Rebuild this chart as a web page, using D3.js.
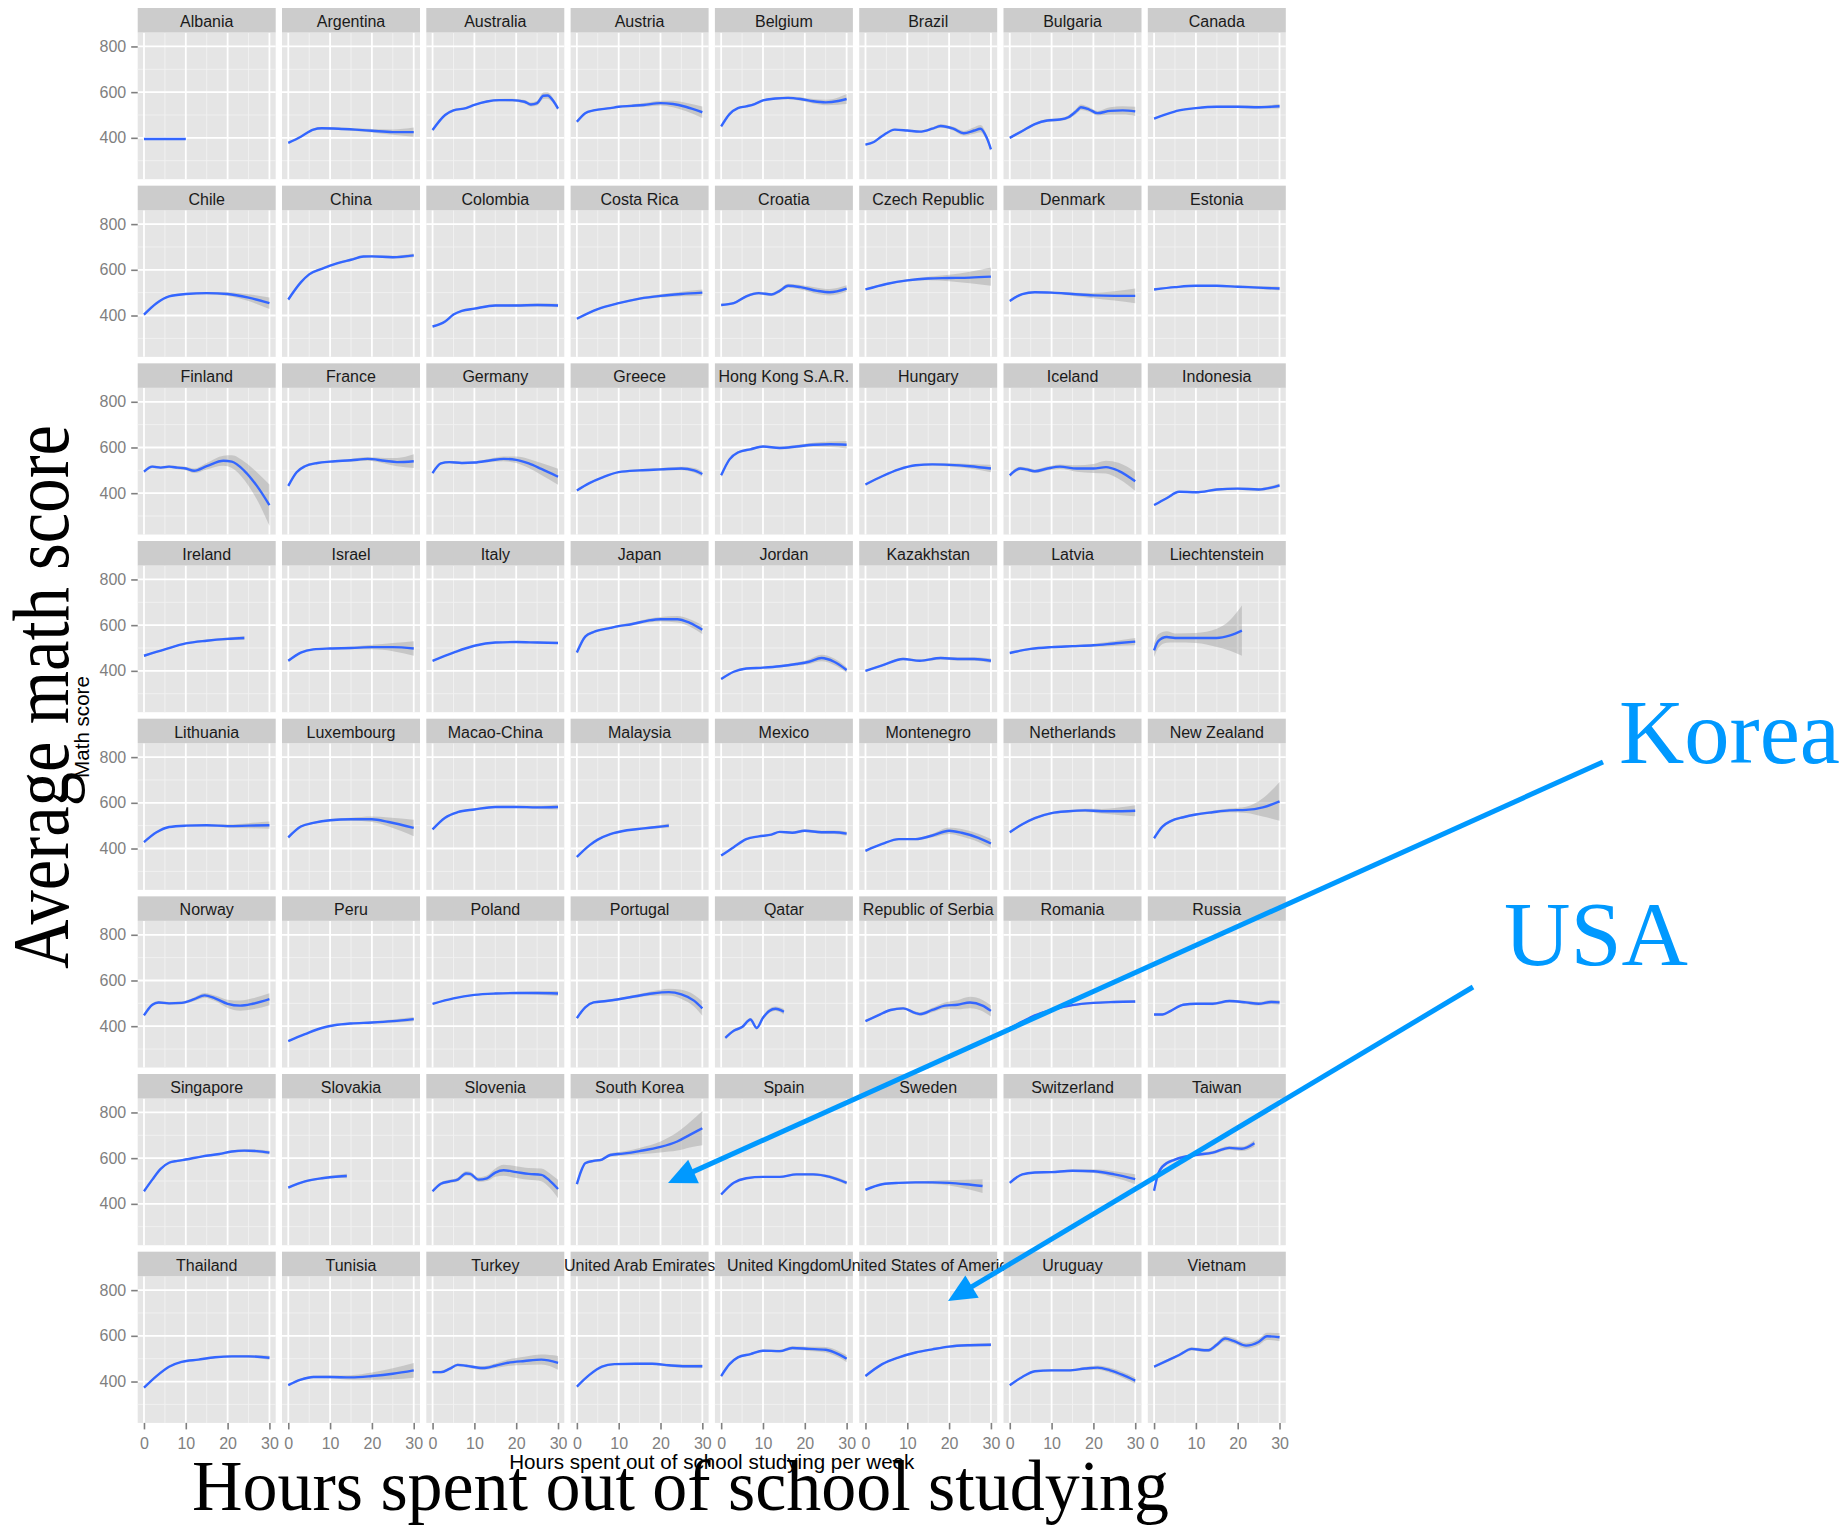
<!DOCTYPE html>
<html>
<head>
<meta charset="utf-8">
<script src="https://cdn.jsdelivr.net/npm/d3@7"></script>
<style>
  html, body { margin: 0; padding: 0; background: #fff; }
  svg { display: block; }
</style>
</head>
<body>
<svg id="chart" width="1848" height="1530"></svg>
<script>
// ── Facets, in the order ggplot lays them out (row by row, 8 per row) ──
const countries = [
  'Albania', 'Argentina', 'Australia', 'Austria', 'Belgium', 'Brazil', 'Bulgaria', 'Canada',
  'Chile', 'China', 'Colombia', 'Costa Rica', 'Croatia', 'Czech Republic', 'Denmark', 'Estonia',
  'Finland', 'France', 'Germany', 'Greece', 'Hong Kong S.A.R.', 'Hungary', 'Iceland', 'Indonesia',
  'Ireland', 'Israel', 'Italy', 'Japan', 'Jordan', 'Kazakhstan', 'Latvia', 'Liechtenstein',
  'Lithuania', 'Luxembourg', 'Macao-China', 'Malaysia', 'Mexico', 'Montenegro', 'Netherlands', 'New Zealand',
  'Norway', 'Peru', 'Poland', 'Portugal', 'Qatar', 'Republic of Serbia', 'Romania', 'Russia',
  'Singapore', 'Slovakia', 'Slovenia', 'South Korea', 'Spain', 'Sweden', 'Switzerland', 'Taiwan',
  'Thailand', 'Tunisia', 'Turkey', 'United Arab Emirates', 'United Kingdom', 'United States of America', 'Uruguay', 'Vietnam'
];

// Smoothed fit per country: [hours per week, math score, half width of the confidence band]
const curves = [
  [[0,395,2],[10,395,2]],
  [[0,378,4],[3,405,4],[6,436,5],[8,442,5],[12,440,5],[16,436,6],[20,431,8],[25,425,12],[30,425,20]],
  [[0,434,6],[3,500,5],[5,520,5],[8,530,4],[10,544,4],[13,559,4],[16,565,5],[19,565,6],[22,558,8],[23.5,546,9],[25,552,10],[26.5,584,14],[27.5,585,14],[29,558,10],[30,528,8]],
  [[0,470,6],[2,508,5],[4,520,4],[8,530,4],[10,536,4],[13,540,6],[16,544,8],[20,552,10],[23,548,14],[26,536,18],[30,512,25]],
  [[0,450,6],[2,504,5],[4,530,4],[6,538,4],[8,548,4],[10,564,4],[13,572,5],[16,575,6],[19,570,8],[22,560,10],[25,555,12],[28,561,16],[30,570,22]],
  [[0,370,4],[2,382,4],[4,408,4],[7,436,4],[10,432,4],[13,427,5],[16,440,6],[18,452,8],[21,440,8],[23.5,420,10],[26,432,14],[27.5,440,16],[29,400,12],[30,350,8]],
  [[0,400,5],[3,430,5],[6,460,5],[9,476,6],[12,480,6],[14,490,8],[16,518,12],[17,534,12],[19,524,10],[21,508,10],[24,518,16],[27,520,18],[30,516,20]],
  [[0,484,4],[3,504,3],[6,520,3],[10,530,3],[15,536,4],[20,536,5],[25,534,6],[30,538,10]],

  [[0,404,5],[3,454,4],[6,484,4],[10,494,4],[15,498,5],[20,494,8],[25,478,15],[30,454,25]],
  [[0,470,6],[3,545,5],[5,580,5],[8,604,4],[10,618,4],[15,644,5],[18,658,5],[20,659,5],[25,655,6],[30,663,8]],
  [[0,352,5],[3,374,4],[5,404,4],[7,420,4],[10,430,4],[15,444,5],[20,444,6],[25,446,7],[30,444,8]],
  [[0,386,5],[5,428,4],[10,454,4],[15,474,5],[20,486,7],[25,494,10],[30,500,14]],
  [[0,446,5],[3,454,5],[6,484,6],[9,498,6],[12,492,7],[14,508,8],[16,530,9],[19,524,10],[23,508,14],[26,502,14],[30,518,14]],
  [[0,514,5],[5,538,4],[10,554,5],[15,562,8],[20,564,14],[25,566,25],[30,570,40]],
  [[0,464,5],[3,494,4],[6,502,4],[10,500,5],[15,494,7],[20,488,12],[25,486,20],[30,486,32]],
  [[0,514,4],[5,524,3],[10,530,3],[15,530,4],[20,526,5],[25,522,6],[30,518,8]],

  [[0,494,6],[2,516,6],[4,512,6],[6,516,6],[8,512,7],[10,508,8],[12,498,10],[15,518,14],[19,542,22],[21,538,28],[24,498,40],[27,432,60],[30,348,90]],
  [[0,432,6],[2,492,5],[4,518,5],[7,532,4],[10,538,4],[15,544,6],[19,550,8],[23,542,12],[26,536,18],[30,540,30]],
  [[0,488,6],[2,530,5],[4,536,5],[7,532,5],[10,534,5],[14,544,8],[17,550,10],[20,546,14],[23,530,20],[26,506,26],[30,472,35]],
  [[0,412,5],[3,444,4],[6,468,4],[10,492,4],[15,500,5],[20,504,6],[25,508,8],[28,500,10],[30,484,12]],
  [[0,478,8],[2,548,6],[4,578,5],[7,592,5],[10,604,5],[14,598,6],[18,604,7],[22,612,9],[26,614,12],[30,612,16]],
  [[0,438,5],[4,474,4],[8,504,4],[12,522,4],[16,526,5],[20,524,7],[25,518,10],[30,508,16]],
  [[0,478,8],[2.5,508,8],[4,504,8],[6,496,8],[9,508,9],[12,516,10],[16,508,14],[20,508,20],[23,514,28],[26,498,35],[30,452,42]],
  [[0,348,4],[3,378,4],[6,406,4],[10,404,4],[15,416,5],[20,420,5],[25,416,6],[28,424,7],[30,434,8]],

  [[0,466,5],[5,494,4],[10,520,4],[15,532,5],[20,540,6],[24,544,9]],
  [[0,444,5],[3,480,4],[6,494,4],[10,498,4],[15,500,6],[20,504,10],[25,504,18],[30,498,32]],
  [[0,444,4],[5,480,3],[10,510,3],[15,524,3],[20,526,4],[25,524,4],[30,522,5]],
  [[0,480,7],[2,550,6],[4,570,5],[8,588,5],[10,596,5],[13,604,6],[17,620,8],[20,626,10],[24,626,14],[27,610,16],[30,580,20]],
  [[0,364,5],[3,396,4],[6,410,4],[10,414,4],[14,420,5],[18,430,7],[21,440,10],[24,456,14],[27,440,14],[30,404,12]],
  [[0,400,5],[4,424,4],[9,452,5],[13,444,5],[18,456,6],[22,452,7],[26,452,8],[30,444,10]],
  [[0,478,5],[5,496,4],[10,504,4],[15,508,5],[20,512,7],[25,520,11],[30,528,16]],
  [[0,490,30],[1,530,30],[3,548,25],[5,544,20],[10,544,22],[15,544,40],[18,554,65],[21,576,110]],

  [[0,428,5],[3,471,4],[6,494,4],[10,500,4],[15,502,5],[20,498,7],[25,500,11],[30,502,16]],
  [[0,449,6],[3,496,5],[6,512,5],[10,524,5],[15,528,7],[20,528,12],[24,516,20],[30,490,36]],
  [[0,484,5],[3,535,4],[6,559,4],[10,571,4],[15,582,4],[20,582,5],[25,580,7],[30,582,11]],
  [[0,363,5],[3,414,4],[5,439,4],[8,463,4],[12,480,4],[16,488,5],[20,496,7],[22,500,9]],
  [[0,369,4],[3,406,3],[6,441,3],[9,453,3],[12,461,4],[14,473,4],[17,469,5],[20,478,6],[24,471,7],[27,471,8],[30,465,9]],
  [[0,390,5],[4,420,4],[8,441,4],[12,441,5],[16,457,8],[20,478,14],[23,469,16],[27,447,18],[30,422,20]],
  [[0,471,6],[3,506,5],[6,533,5],[10,555,5],[14,563,5],[18,567,7],[22,563,10],[26,563,16],[30,565,24]],
  [[0,445,7],[2,496,6],[4,520,5],[7,537,5],[10,549,5],[14,559,6],[18,567,8],[22,569,14],[26,580,40],[30,606,85]],

  [[0,447,6],[2,494,6],[3.5,504,6],[6,500,6],[9,502,6],[12,518,8],[14.5,535,10],[17,522,12],[20,498,18],[23,490,22],[26,498,24],[30,518,26]],
  [[0,335,4],[4,365,3],[8,392,3],[11,404,3],[15,412,4],[20,416,5],[25,422,7],[30,431,9]],
  [[0,498,4],[5,522,3],[10,537,3],[15,543,4],[20,545,5],[25,545,7],[30,543,11]],
  [[0,435,6],[2,482,5],[4,504,5],[7,510,5],[10,518,5],[14,531,7],[18,543,10],[22,549,15],[25,539,20],[28,512,26],[30,478,32]],
  [[1,349,5],[3,380,6],[5,396,6],[7,429,7],[8.5,392,7],[10,437,8],[11.5,467,9],[13,476,10],[15,463,12]],
  [[0,422,5],[3,447,5],[6,471,5],[9,478,6],[12,457,7],[13,453,8],[16,471,10],[19,490,14],[22,494,20],[25,504,25],[28,490,25],[30,467,25]],
  [[0,390,5],[3,420,4],[6,447,4],[10,471,4],[15,492,4],[20,502,5],[25,506,5],[30,508,6]],
  [[0,451,5],[2,451,5],[4,467,5],[7,494,5],[10,498,5],[14,498,6],[18,510,6],[22,504,7],[25,498,8],[28,506,9],[30,504,10]],

  [[0,455,6],[2,506,5],[4,553,5],[6,580,4],[8,588,4],[10,594,4],[14,608,4],[18,618,5],[21,629,5],[24,633,6],[27,631,7],[30,624,8]],
  [[0,471,5],[4,498,4],[8,512,5],[12,520,7],[14,522,10]],
  [[0,455,7],[2,488,7],[4,498,7],[6,506,8],[8,533,10],[9,531,10],[11,506,10],[13,512,12],[15,537,18],[17,547,24],[20,539,26],[23,531,26],[26,527,28],[28,502,32],[30,465,40]],
  [[0,486,8],[1,543,8],[2,578,6],[4,588,6],[6,594,6],[8,614,7],[11,620,9],[15,631,14],[20,649,24],[24,673,40],[27,702,55],[30,731,75]],
  [[0,441,5],[3,492,4],[6,512,4],[10,518,4],[14,518,4],[18,529,5],[22,529,6],[26,518,7],[30,492,8]],
  [[0,461,5],[4,486,4],[8,492,4],[12,494,5],[16,494,7],[20,492,12],[24,486,20],[28,478,30]],
  [[0,492,5],[3,529,4],[6,537,4],[10,539,4],[15,545,5],[20,543,8],[25,529,14],[30,508,22]],
  [[0,457,10],[1,533,9],[2,563,8],[5,594,6],[10,614,6],[14,624,7],[18,645,8],[21,641,10],[24,665,15]],

  [[0,373,4],[3,424,4],[6,465,4],[9,486,3],[13,496,3],[17,506,4],[21,510,5],[25,510,6],[30,504,9]],
  [[0,384,5],[3,408,5],[6,420,5],[10,420,6],[15,418,10],[20,424,16],[25,434,24],[30,449,32]],
  [[0,441,6],[2,441,6],[4,455,6],[6,473,6],[8,469,6],[12,459,8],[15,469,10],[18,482,14],[22,490,18],[26,496,22],[30,482,30]],
  [[0,378,5],[3,429,4],[6,465,4],[9,476,4],[14,478,4],[18,478,5],[22,471,6],[26,467,7],[30,467,9]],
  [[0,424,6],[2,476,5],[4,506,5],[7,520,5],[10,535,5],[14,533,6],[17,547,7],[21,543,9],[25,539,12],[28,520,14],[30,500,16]],
  [[0,424,5],[4,476,4],[8,506,4],[12,527,4],[16,541,4],[20,553,5],[25,559,6],[30,561,8]],
  [[0,384,5],[3,420,4],[6,445,4],[10,449,5],[14,449,5],[18,457,7],[21,461,9],[24,449,11],[27,429,13],[30,404,14]],
  [[0,465,6],[3,490,6],[6,516,6],[9,543,7],[12,537,8],[13,537,8],[15,561,10],[17,588,12],[19,578,12],[22,557,12],[25,573,14],[27,598,16],[30,594,18]]
];

const xTicks = [0, 10, 20, 30];
const xMinor = [5, 15, 25];
const yTicks = [400, 600, 800];
const yMinor = [300, 500, 700];

// ── Layout ──
const W = 1848, H = 1530;
const NCOL = 8;
const LEFT = 137.7, TOP = 8;
const COL_STEP = 144.3, ROW_STEP = 177.67;
const STRIP_H = 24.5, PANEL_W = 138, PANEL_H = 146.7;
const SANS = '"Liberation Sans", Arial, Helvetica, sans-serif';
const SERIF = '"Liberation Serif", "Times New Roman", serif';
const BLUE = '#0099ff';

const x = d3.scaleLinear().domain([-1.5, 31.5]).range([0, PANEL_W]);
const y = d3.scaleLinear().domain([219, 861]).range([PANEL_H, 0]);

const svg = d3.select('#chart').attr('viewBox', `0 0 ${W} ${H}`);
svg.append('rect').attr('width', W).attr('height', H).attr('fill', '#fff');

svg.append('defs').append('clipPath').attr('id', 'panel-clip')
  .append('rect').attr('width', PANEL_W).attr('height', PANEL_H);

const line = d3.line().x(d => x(d[0])).y(d => y(d[1])).curve(d3.curveMonotoneX);
const band = d3.area().x(d => x(d[0]))
  .y0(d => y(d[1] - d[2])).y1(d => y(d[1] + d[2])).curve(d3.curveMonotoneX);

const nRow = Math.ceil(countries.length / NCOL);

countries.forEach((name, i) => {
  const col = i % NCOL, row = Math.floor(i / NCOL);
  const cell = svg.append('g')
    .attr('transform', `translate(${LEFT + col * COL_STEP},${TOP + row * ROW_STEP})`);
  const panel = cell.append('g').attr('transform', `translate(0,${STRIP_H})`);

  panel.append('rect').attr('width', PANEL_W).attr('height', PANEL_H).attr('fill', '#e5e5e5');

  // grid: minor first, then major
  panel.selectAll('.vmin').data(xMinor).enter().append('line')
    .attr('x1', d => x(d)).attr('x2', d => x(d)).attr('y1', 0).attr('y2', PANEL_H)
    .attr('stroke', '#f2f2f2').attr('stroke-width', 0.9);
  panel.selectAll('.hmin').data(yMinor).enter().append('line')
    .attr('x1', 0).attr('x2', PANEL_W).attr('y1', d => y(d)).attr('y2', d => y(d))
    .attr('stroke', '#f2f2f2').attr('stroke-width', 0.9);
  panel.selectAll('.vmaj').data(xTicks).enter().append('line')
    .attr('x1', d => x(d)).attr('x2', d => x(d)).attr('y1', 0).attr('y2', PANEL_H)
    .attr('stroke', '#fff').attr('stroke-width', 1.8);
  panel.selectAll('.hmaj').data(yTicks).enter().append('line')
    .attr('x1', 0).attr('x2', PANEL_W).attr('y1', d => y(d)).attr('y2', d => y(d))
    .attr('stroke', '#fff').attr('stroke-width', 1.8);

  const plot = panel.append('g').attr('clip-path', 'url(#panel-clip)');
  plot.append('path').datum(curves[i]).attr('d', band)
    .attr('fill', '#999').attr('fill-opacity', 0.4);
  plot.append('path').datum(curves[i]).attr('d', line)
    .attr('fill', 'none').attr('stroke', '#3366ff').attr('stroke-width', 2.4);

  // axes only on the outer edge
  if (col === 0) {
    const ax = panel.append('g').call(d3.axisLeft(y).tickValues(yTicks).tickSize(6.5).tickPadding(5));
    styleAxis(ax);
  }
  if (row === nRow - 1) {
    const ax = panel.append('g').attr('transform', `translate(0,${PANEL_H})`)
      .call(d3.axisBottom(x).tickValues(xTicks).tickSize(6.5).tickPadding(8.5));
    styleAxis(ax);
  }

  // strip (drawn in order, so the next strip hides the overflow of a long name)
  cell.append('rect').attr('width', PANEL_W).attr('height', STRIP_H).attr('fill', '#cccccc');
  cell.append('text')
    .attr('x', PANEL_W / 2).attr('y', STRIP_H / 2).attr('dy', '0.42em')
    .attr('text-anchor', 'middle').attr('fill', '#1a1a1a')
    .attr('font-family', SANS).attr('font-size', 16)
    .text(name);
});

function styleAxis(ax) {
  ax.select('.domain').remove();
  ax.selectAll('.tick line').attr('stroke', '#7f7f7f').attr('stroke-width', 1.6);
  ax.selectAll('.tick text').attr('fill', '#7f7f7f')
    .attr('font-family', SANS).attr('font-size', 16);
}

// ── ggplot axis titles ──
const gridMidX = LEFT + ((NCOL - 1) * COL_STEP + PANEL_W) / 2;

svg.append('text')
  .attr('x', gridMidX).attr('y', 1469)
  .attr('text-anchor', 'middle').attr('fill', '#000')
  .attr('font-family', SANS).attr('font-size', 20.6)
  .text('Hours spent out of school studying per week');

svg.append('text')
  .attr('transform', `translate(89,727) rotate(-90)`)
  .attr('text-anchor', 'middle').attr('fill', '#000')
  .attr('font-family', SANS).attr('font-size', 20.6)
  .text('Math score');

// ── Overlaid hand-written titles ──
svg.append('text')
  .attr('transform', 'translate(68,697) rotate(-90)')
  .attr('text-anchor', 'middle').attr('fill', '#000')
  .attr('font-family', SERIF).attr('font-size', 80)
  .attr('textLength', 544).attr('lengthAdjust', 'spacingAndGlyphs')
  .text('Average math score');

svg.append('text')
  .attr('x', 192).attr('y', 1510)
  .attr('fill', '#000')
  .attr('font-family', SERIF).attr('font-size', 71)
  .attr('textLength', 977).attr('lengthAdjust', 'spacingAndGlyphs')
  .text('Hours spent out of school studying');

// ── Callouts ──
function arrow(x1, y1, x2, y2) {
  const dx = x2 - x1, dy = y2 - y1, len = Math.hypot(dx, dy);
  const ux = dx / len, uy = dy / len;
  const headL = 28, headW = 13;
  const bx = x2 - ux * headL, by = y2 - uy * headL;
  svg.append('line')
    .attr('x1', x1).attr('y1', y1).attr('x2', bx + ux * 4).attr('y2', by + uy * 4)
    .attr('stroke', BLUE).attr('stroke-width', 5);
  svg.append('path')
    .attr('d', `M${x2},${y2}L${bx - uy * headW},${by + ux * headW}L${bx + uy * headW},${by - ux * headW}Z`)
    .attr('fill', BLUE);
}

svg.append('text').attr('x', 1619).attr('y', 763)
  .attr('fill', BLUE).attr('font-family', SERIF).attr('font-size', 92)
  .attr('textLength', 221).attr('lengthAdjust', 'spacingAndGlyphs')
  .text('Korea');
svg.append('text').attr('x', 1504).attr('y', 965)
  .attr('fill', BLUE).attr('font-family', SERIF).attr('font-size', 92)
  .attr('textLength', 184).attr('lengthAdjust', 'spacingAndGlyphs')
  .text('USA');

arrow(1603, 762, 668, 1183);
arrow(1473, 987, 948, 1301);
</script>
</body>
</html>
